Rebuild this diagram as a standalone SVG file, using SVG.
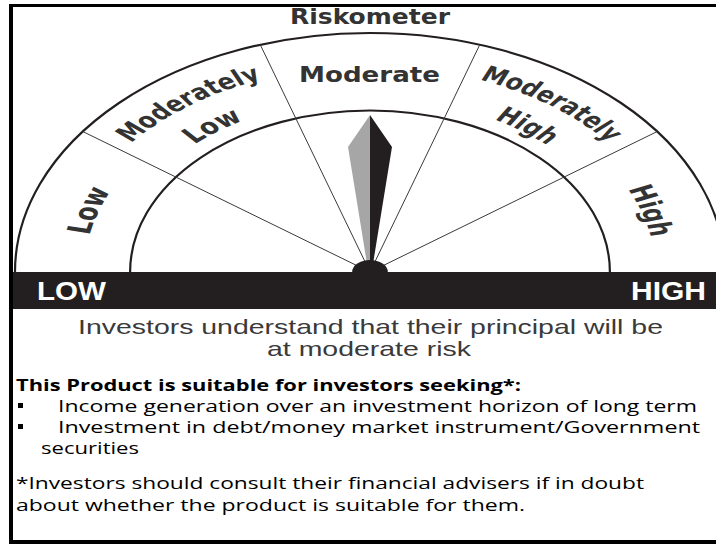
<svg xmlns="http://www.w3.org/2000/svg" width="716" height="545" viewBox="0 0 716 545">
<style>
.frame{fill:#000}
.arc{fill:none;stroke:#231f20;stroke-width:2.2;vector-effect:non-scaling-stroke}
.div{fill:none;stroke:#3a3a3a;stroke-width:1;vector-effect:non-scaling-stroke}
.lbl{font-family:"DejaVu Sans",sans-serif;font-weight:bold;fill:#333;font-size:22px}
.barTxt{font-family:"Liberation Sans",Arial,sans-serif;font-weight:bold;fill:#fff;font-size:25px}
.cap{font-family:"Liberation Sans",Arial,sans-serif;fill:#3a3a3a;font-size:21px}
.note{font-family:"Open Sans",sans-serif;fill:#000;font-size:16px}
.bullet{fill:#000}
</style>
<defs>
<path id="pLow" d="M -192.4 0 A 192.4 192.4 0 0 1 -155.7 -113.1"/>
<path id="pHigh" d="M 155.7 -113.1 A 192.4 192.4 0 0 1 192.4 0"/>
<path id="pML1" d="M -188.2 -83.8 A 206 206 0 0 1 -21.5 -204.9"/>
<path id="pML2" d="M -158.9 -70.8 A 174 174 0 0 1 -18.2 -173.0"/>
<path id="pMH1" d="M 21.5 -204.9 A 206 206 0 0 1 188.2 -83.8"/>
<path id="pMH2" d="M 18.2 -173.0 A 174 174 0 0 1 158.9 -70.8"/>
</defs>
<rect width="716" height="545" fill="#fff"/>
<g id="frame">
<rect class="frame" x="9" y="4" width="707" height="3"/>
<rect class="frame" x="9" y="4" width="4" height="540"/>
<rect class="frame" x="9" y="540" width="707" height="4"/>
</g>
<g id="title">
<text class="lbl" x="290" y="24" textLength="160" lengthAdjust="spacingAndGlyphs">Riskometer</text>
</g>
<g id="gauge" transform="matrix(1.4854 0 0 1 370 272)">
<g id="connectors">
<path class="arc" d="M -239 0 A 239 239 0 0 1 239 0"/>
<path class="arc" d="M -161.5 0 A 161.5 161.5 0 0 1 161.5 0"/>
<line class="div" x1="0" y1="0" x2="-193.4" y2="-140.5"/>
<line class="div" x1="0" y1="0" x2="-73.9" y2="-227.3"/>
<line class="div" x1="0" y1="0" x2="73.9" y2="-227.3"/>
<line class="div" x1="0" y1="0" x2="193.4" y2="-140.5"/>
</g>
<g id="seg-low">
<text class="lbl"><textPath href="#pLow" startOffset="50%" text-anchor="middle" textLength="47" lengthAdjust="spacingAndGlyphs">Low</textPath></text>
</g>
<g id="seg-moderately-low">
<text class="lbl"><textPath href="#pML1" startOffset="50%" text-anchor="middle" textLength="110" lengthAdjust="spacingAndGlyphs">Moderately</textPath></text>
<text class="lbl"><textPath href="#pML2" startOffset="50%" text-anchor="middle" textLength="41" lengthAdjust="spacingAndGlyphs">Low</textPath></text>
</g>
<g id="seg-moderately-high">
<text class="lbl"><textPath href="#pMH1" startOffset="50%" text-anchor="middle" textLength="108" lengthAdjust="spacingAndGlyphs">Moderately</textPath></text>
<text class="lbl"><textPath href="#pMH2" startOffset="50%" text-anchor="middle" textLength="44" lengthAdjust="spacingAndGlyphs">High</textPath></text>
</g>
<g id="seg-high">
<text class="lbl"><textPath href="#pHigh" startOffset="50%" text-anchor="middle" textLength="51" lengthAdjust="spacingAndGlyphs">High</textPath></text>
</g>
<g id="needle">
<polygon points="0,-157 -14.8,-125 -2,-8 0,-8" fill="#a6a6a6"/>
<polygon points="0,-157 14.8,-125 2,-8 0,-8" fill="#231f20"/>
<circle cx="0" cy="0" r="12" fill="#231f20"/>
</g>
</g>
<g id="seg-moderate">
<text class="lbl" x="299" y="82" textLength="141" lengthAdjust="spacingAndGlyphs" font-size="23">Moderate</text>
</g>
<g id="scale-bar">
<rect x="13" y="272" width="703" height="37" fill="#231f20"/>
<text class="barTxt" x="37" y="300" textLength="69" lengthAdjust="spacingAndGlyphs">LOW</text>
<text class="barTxt" x="631" y="300" textLength="75" lengthAdjust="spacingAndGlyphs">HIGH</text>
</g>
<g id="caption">
<text class="cap" x="78" y="334" textLength="585" lengthAdjust="spacingAndGlyphs">Investors understand that their principal will be</text>
<text class="cap" x="267" y="356" textLength="204" lengthAdjust="spacingAndGlyphs">at moderate risk</text>
</g>
<g id="notes">
<text class="note" x="16" y="391" font-weight="bold" textLength="505" lengthAdjust="spacingAndGlyphs">This Product is suitable for investors seeking*:</text>
<rect class="bullet" x="18" y="403" width="5" height="5"/>
<text class="note" x="58" y="412" textLength="639" lengthAdjust="spacingAndGlyphs">Income generation over an investment horizon of long term</text>
<rect class="bullet" x="18" y="424" width="5" height="5"/>
<text class="note" x="58" y="433" textLength="642" lengthAdjust="spacingAndGlyphs">Investment in debt/money market instrument/Government</text>
<text class="note" x="41" y="454" textLength="98" lengthAdjust="spacingAndGlyphs">securities</text>
<text class="note" x="16" y="489" textLength="628" lengthAdjust="spacingAndGlyphs">*Investors should consult their financial advisers if in doubt</text>
<text class="note" x="16" y="511" textLength="509" lengthAdjust="spacingAndGlyphs">about whether the product is suitable for them.</text>
</g>
</svg>
